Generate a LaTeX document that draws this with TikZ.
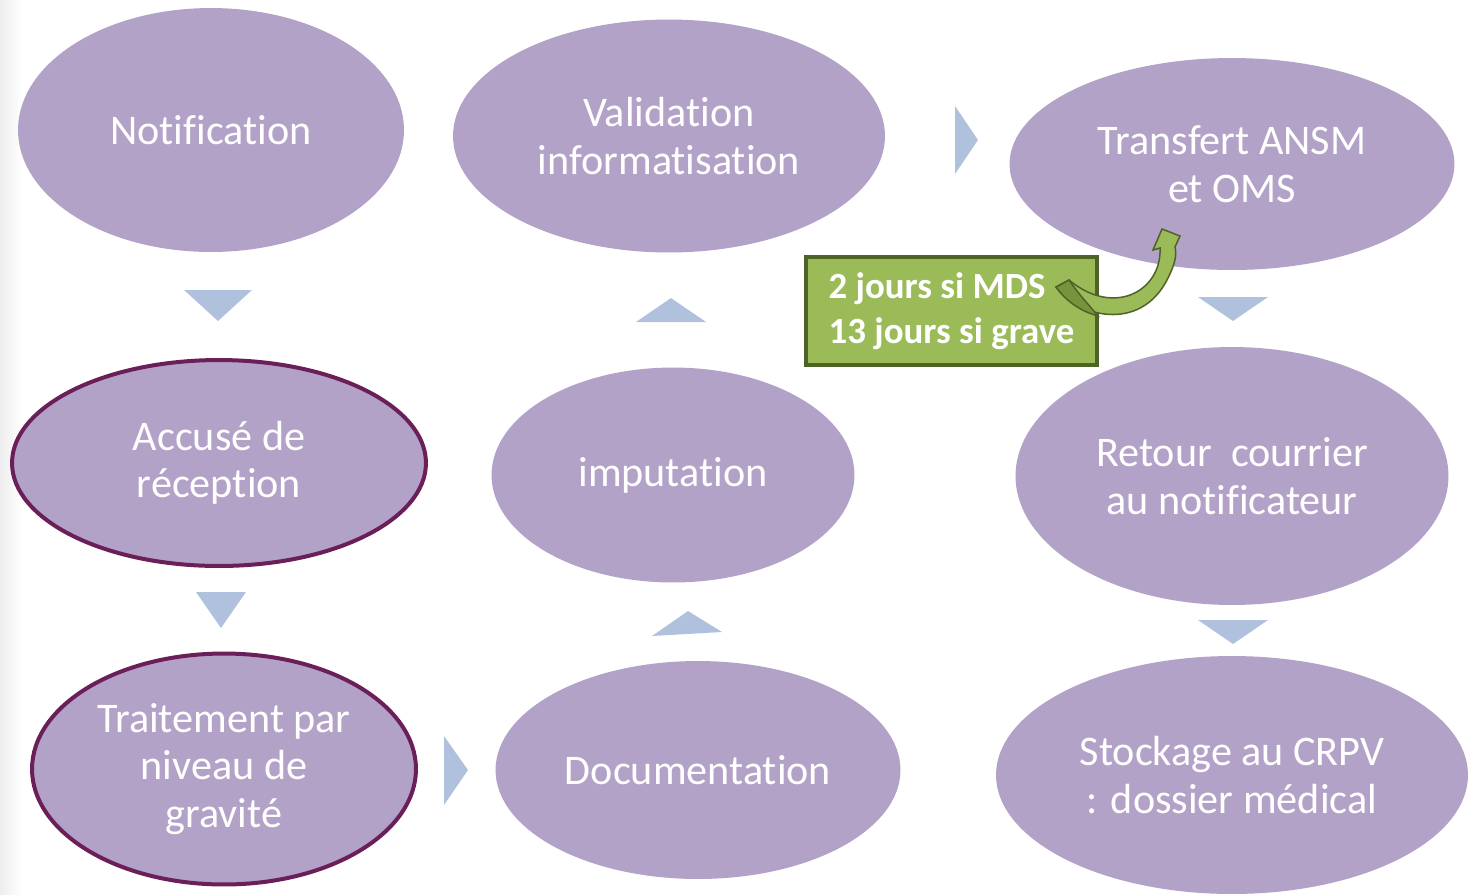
\documentclass[tikz,border=0pt]{standalone}
\usepackage{fontspec}
\setmainfont{Carlito}[Ligatures=NoCommon]
\usetikzlibrary{shapes.geometric}
\definecolor{bubblefill}{HTML}{B2A2C7}
\definecolor{rimcolor}{HTML}{6B1F58}
\definecolor{tricolor}{HTML}{B0C1DE}
\definecolor{boxgreen}{HTML}{9BBB59}
\definecolor{boxdark}{HTML}{4F6228}
\definecolor{taildark}{HTML}{77933C}
\begin{document}
\begin{tikzpicture}[x=0.02cm,y=-0.02cm,
	bubble/.style={ellipse,fill=bubblefill,text=white,align=center,inner sep=0pt,font=\fontsize{24}{27}\selectfont},
	rim/.style={draw=rimcolor,line width=0.08cm},
	tri/.style={fill=tricolor},
	delaybox/.style={rectangle,fill=boxgreen,draw=boxdark,line width=0.08cm,text=white,align=left,inner sep=0pt,font=\bfseries\fontsize{21}{25.5}\selectfont}]
	\useasboundingbox (0,0) rectangle (1468,894);
	\shade[left color=black!7,right color=white] (0,0) rectangle (22,894);

	% left column
	\node[bubble,minimum width=7.72cm,minimum height=4.88cm] (notif) at (211,130) {Notification};
	\node[bubble,rim,minimum width=8.28cm,minimum height=4.12cm] (accuse) at (219,463) {Accusé de\\réception};
	\node[bubble,rim,minimum width=7.68cm,minimum height=4.62cm] (traitement) at (224,769) {Traitement par\\niveau de\\gravité};

	% middle column
	\node[bubble,minimum width=8.64cm,minimum height=4.66cm] (validation) at (669,136) {Validation\\informatisation};
	\node[bubble,minimum width=7.26cm,minimum height=4.30cm] (imputation) at (673,475) {imputation};
	\node[bubble,minimum width=8.10cm,minimum height=4.36cm] (documentation) at (698,770) {Documentation};

	% right column
	\node[bubble,minimum width=8.90cm,minimum height=4.24cm] (transfert) at (1232,164) {Transfert ANSM\\et OMS};
	\node[bubble,minimum width=8.66cm,minimum height=5.16cm] (retour) at (1232,476) {Retour\ \ courrier\\au notificateur};
	\node[bubble,minimum width=9.44cm,minimum height=4.76cm] (stockage) at (1232,775) {Stockage au CRPV\\: dossier médical};

	% pointers
	\fill[tri] (184,290) -- (252,290) -- (218,321) -- cycle;
	\fill[tri] (196,592) -- (246,592) -- (221,628) -- cycle;
	\fill[tri] (444,736) -- (444,805) -- (468,770) -- cycle;
	\fill[tri] (652,636) -- (722,632) -- (688,611) -- cycle;
	\fill[tri] (636,322) -- (706,322) -- (671,298) -- cycle;
	\fill[tri] (955,106) -- (955,174) -- (978,140) -- cycle;
	\fill[tri] (1198,297) -- (1268,297) -- (1233,321) -- cycle;
	\fill[tri] (1198,620) -- (1268,620) -- (1233,644) -- cycle;

	% delay box and curved arrow
	\node[delaybox,minimum width=5.82cm,minimum height=2.16cm] (delai) at (951.5,311) {2 jours si MDS\\13 jours si grave};
	\filldraw[fill=boxgreen,draw=boxdark,line width=0.03cm] (1056,287) .. controls (1075,315) and (1140,335) .. (1168,278) .. controls (1175,264) and (1177,255) .. (1175,247) -- (1180,236) -- (1162,229) -- (1153,250) -- (1160,248) .. controls (1162,290) and (1115,318) .. (1069,280) -- cycle;
	\filldraw[fill=taildark,draw=boxdark,line width=0.03cm] (1056,287) .. controls (1066,301) and (1080,311) .. (1098,316) .. controls (1090,306) and (1080,296) .. (1069,280) -- cycle;
\end{tikzpicture}
\end{document}
